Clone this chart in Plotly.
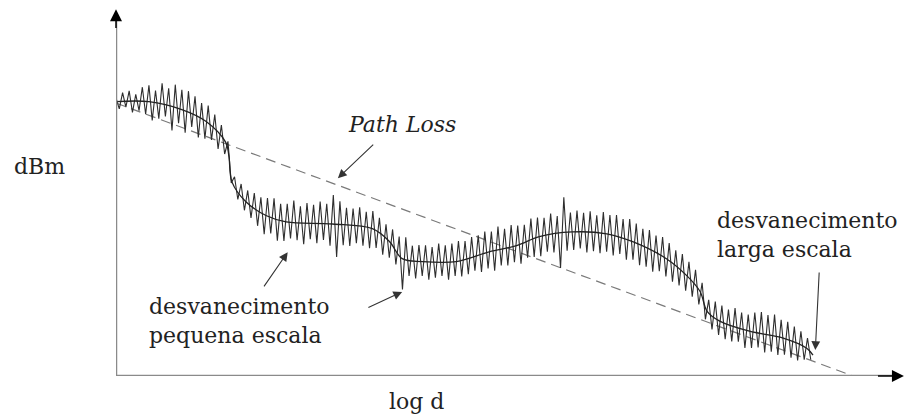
import plotly.graph_objects as go

# ---- data (arbitrary units: x = log d, y = received power) ----
# rapid (small-scale) fading trace, sampled every 0.42 units of log d
noisy_step = 0.42
noisy_y = [
    77.0, 74.0, 78.5, 74.5, 79.0, 73.0, 78.0, 73.5, 80.0, 72.5,
    80.5, 70.8, 79.1, 71.3, 81.1, 71.9, 79.7, 68.0, 80.7, 70.0,
    79.3, 67.4, 78.9, 69.0, 77.5, 66.1, 75.6, 65.7, 74.9, 65.4,
    72.4, 62.9, 69.5, 61.5, 65.0, 53.5, 55.2, 48.9, 53.2, 45.9,
    51.4, 43.8, 50.7, 41.6, 49.5, 39.3, 49.3, 39.5, 49.2, 37.5,
    47.7, 37.4, 47.7, 38.1, 48.6, 37.6, 47.0, 36.5, 47.9, 37.9,
    47.4, 36.8, 48.3, 37.7, 47.7, 36.1, 50.1, 33.0, 48.4, 36.2,
    46.6, 36.0, 46.4, 36.8, 46.7, 36.1, 45.5, 35.4, 45.7, 35.5,
    43.8, 33.6, 42.0, 32.8, 40.6, 30.9, 38.6, 24.0, 38.4, 27.7,
    36.1, 27.0, 36.3, 27.7, 36.2, 26.7, 35.7, 27.2, 36.7, 27.7,
    36.2, 26.7, 36.7, 27.7, 37.4, 27.6, 37.4, 28.2, 38.5, 29.2,
    39.0, 28.8, 40.0, 29.8, 40.0, 29.2, 41.4, 30.6, 40.8, 30.6,
    41.8, 31.5, 41.7, 31.1, 41.9, 32.8, 43.6, 33.0, 43.9, 33.2,
    43.8, 34.4, 45.0, 34.2, 44.3, 29.9, 49.5, 34.7, 45.3, 34.9,
    45.8, 35.3, 45.2, 34.2, 45.6, 34.6, 44.5, 34.0, 45.4, 34.4,
    44.6, 33.4, 44.6, 33.8, 43.5, 32.2, 43.5, 32.2, 42.2, 30.7,
    40.8, 30.3, 40.4, 28.9, 38.9, 29.0, 38.5, 27.6, 36.8, 26.1,
    34.8, 25.1, 33.8, 23.6, 31.6, 22.0, 29.4, 19.8, 25.8, 15.7,
    21.1, 12.9, 20.6, 11.4, 19.5, 10.2, 18.4, 9.6, 18.8, 9.5,
    17.6, 7.8, 17.0, 7.8, 17.6, 7.9, 17.7, 6.5, 16.9, 6.7,
    17.0, 5.8, 15.6, 5.9, 15.0, 5.1, 13.7, 4.3, 12.4, 4.5,
    10.5, 4.5,
]
noisy_x = [round(i * noisy_step, 2) for i in range(len(noisy_y))]

# large-scale (shadowing) mean curve
smooth_x = [0, 4.2, 8.4, 11.5, 14.0, 14.4, 14.8, 16.6, 19.2, 21.7, 27.6, 32.7,
            34.9, 36.5, 39.1, 43.4, 47.6, 51.1, 54.0, 58.2, 62.6, 65.9, 70.2,
            72.8, 74.5, 75.4, 77.0, 80.8, 85.1, 88.1, 88.9]
smooth_y = [76.0, 76.0, 73.8, 70.5, 64.7, 60.9, 53.7, 48.2, 44.4, 42.7, 42.1, 40.8,
            37.2, 32.5, 31.7, 31.7, 34.4, 36.1, 38.6, 39.9, 39.4, 37.2, 32.5,
            27.8, 23.4, 17.9, 15.2, 12.4, 10.5, 7.7, 5.8]

# path loss (dashed straight line)
pathloss_x = [0, 94.0]
pathloss_y = [75.6, 0]

FONT = "DejaVu Serif, Liberation Serif, serif"

fig = go.Figure()
fig.add_trace(go.Scatter(x=pathloss_x, y=pathloss_y, mode="lines",
                         line=dict(color="#7a7a7a", width=1.2, dash="10px,6px"),
                         hoverinfo="skip"))
fig.add_trace(go.Scatter(x=noisy_x, y=noisy_y, mode="lines",
                         line=dict(color="#2e2e2e", width=1.1),
                         hoverinfo="skip"))
fig.add_trace(go.Scatter(x=smooth_x, y=smooth_y, mode="lines",
                         line=dict(color="#222222", width=1.3, shape="spline", smoothing=1.0),
                         hoverinfo="skip"))

# axes drawn as arrows
fig.add_shape(type="line", x0=0, y0=0, x1=99.5, y1=0, line=dict(color="#8a8a8a", width=2.5))
fig.add_shape(type="line", x0=0, y0=0, x1=0, y1=100.5, line=dict(color="#8a8a8a", width=2.5))

ann = []
# axis arrowheads
ann.append(dict(x=100.5, y=0, ax=97.0, ay=0, xref="x", yref="y", axref="x", ayref="y",
                showarrow=True, arrowhead=2, arrowsize=1.6, arrowwidth=1.5,
                arrowcolor="black", text=""))
ann.append(dict(x=0, y=101.6, ax=0, ay=96.0, xref="x", yref="y", axref="x", ayref="y",
                showarrow=True, arrowhead=2, arrowsize=1.6, arrowwidth=1.5,
                arrowcolor="black", text=""))

# pointer arrows
arrows = [
    ((33.0, 64.5), (28.3, 54.8)),   # Path Loss
    ((18.75, 24.4), (21.9, 34.3)),  # small scale 1
    ((32.0, 18.8), (36.5, 23.3)),   # small scale 2
    ((89.7, 29.1), (89.2, 7.2)),    # large scale
]
for (tx, ty), (hx, hy) in arrows:
    ann.append(dict(x=hx, y=hy, ax=tx, ay=ty, xref="x", yref="y", axref="x", ayref="y",
                    showarrow=True, arrowhead=2, arrowsize=1.6, arrowwidth=1.1,
                    arrowcolor="#333333", text=""))

def label(text, x, y, size, xanchor="center", italic=False, ref="x"):
    return dict(x=x, y=y,
                xref="paper" if ref == "paper" else "x",
                yref="paper" if ref == "paper" else "y",
                text=text, showarrow=False, align="left",
                xanchor=xanchor, yanchor="middle",
                font=dict(family=FONT, size=size, color="#222222",
                          style="italic" if italic else "normal"))

ann.append(label("dBm", -0.097, 0.58, 22, ref="paper"))
ann.append(label("Path Loss", 36.5, 69.8, 22, italic=True))
ann.append(label("desvanecimento<br>pequena escala", 3.95, 15.1, 22, xanchor="left"))
ann.append(label("desvanecimento<br>larga escala", 76.4, 39.1, 22, xanchor="left"))
ann.append(label("log d", 0.383, -0.072, 22, ref="paper"))

fig.update_layout(
    width=905, height=419,
    margin=dict(l=116, r=5, t=15, b=43),
    paper_bgcolor="white", plot_bgcolor="white",
    showlegend=False,
    xaxis=dict(range=[0, 100], visible=False, fixedrange=True),
    yaxis=dict(range=[0, 100], visible=False, fixedrange=True),
    annotations=ann,
)

fig.write_html("out.html", config={"displayModeBar": False},
               post_script="document.body.style.margin='0';document.body.style.overflow='hidden';")
